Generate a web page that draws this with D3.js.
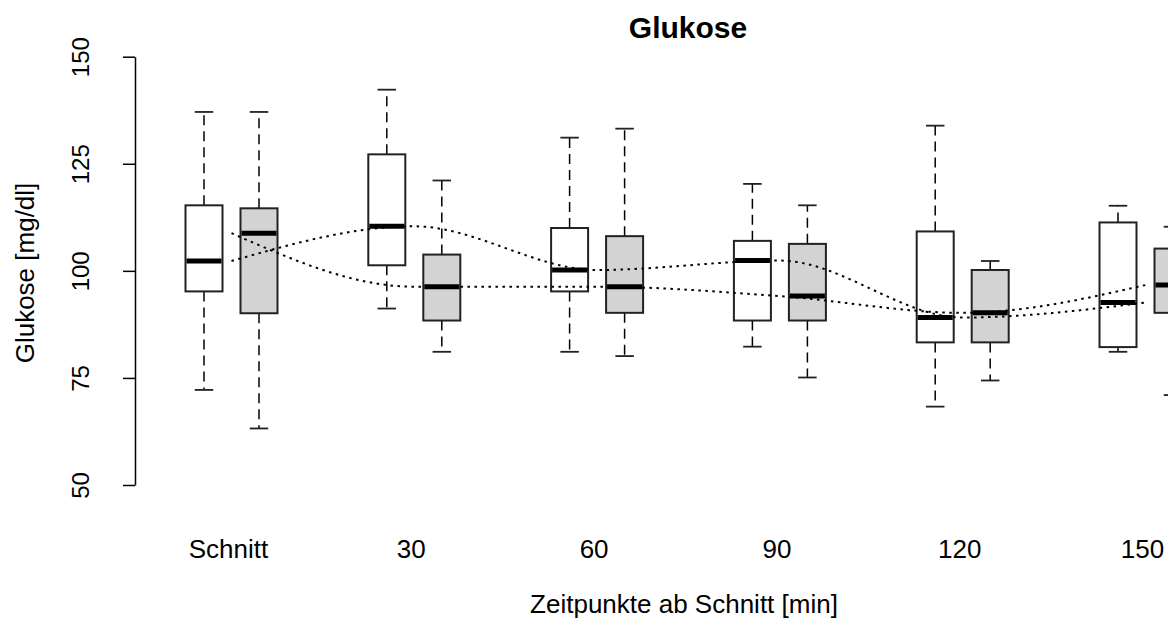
<!DOCTYPE html>
<html>
<head>
<meta charset="utf-8">
<script src="https://cdn.jsdelivr.net/npm/d3@7"></script>
<style>
  body { margin: 0; background: #fff; }
  svg { display: block; font-family: "Liberation Sans", Arial, sans-serif; }
</style>
</head>
<body>
<svg id="chart"></svg>
<script>
// Zeitpunkte
const categories = ['Schnitt', '30', '60', '90', '120', '150'];

// Gruppe 1 (weiß): untere Whisker, Q1, Median, Q3, obere Whisker
const whiteLow    = [72.2, 91.2, 81.1, 82.3, 68.3, 81.1];
const whiteQ1     = [95.2, 101.3, 95.2, 88.4, 83.3, 82.2];
const whiteMedian = [102.3, 110.4, 100.2, 102.4, 89.1, 92.6];
const whiteQ3     = [115.3, 127.2, 110.0, 107.0, 109.2, 111.3];
const whiteHigh   = [137.1, 142.3, 131.1, 120.3, 133.9, 115.2];

// Gruppe 2 (grau)
const grayLow    = [63.2, 81.1, 80.1, 75.1, 74.4, 71.0];
const grayQ1     = [90.1, 88.4, 90.2, 88.4, 83.3, 90.2];
const grayMedian = [108.8, 96.3, 96.3, 94.1, 90.2, 96.7];
const grayQ3     = [114.6, 103.8, 108.1, 106.3, 100.2, 105.2];
const grayHigh   = [137.1, 121.1, 133.2, 115.3, 102.3, 110.3];

const yTicks = [50, 75, 100, 125, 150];

const width = 1168, height = 621;

const svg = d3.select('#chart')
    .attr('width', width)
    .attr('height', height);

const xscale = d3.scalePoint()
    .domain(categories)
    .range([231.5, 1145.5]);

const sub = d3.scalePoint()
    .domain(['white', 'gray'])
    .range([-27.5, 27.5]);

const yscale = d3.scaleLinear()
    .domain([50, 150])
    .range([485, 56.7]);

const boxWidth = 37;

// tabelle für die boxen
const boxes = [];
categories.forEach((c, i) => {
    boxes.push({ cat: c, grp: 'white', fill: '#ffffff', low: whiteLow[i], q1: whiteQ1[i], med: whiteMedian[i], q3: whiteQ3[i], high: whiteHigh[i] });
    boxes.push({ cat: c, grp: 'gray', fill: '#d3d3d3', low: grayLow[i], q1: grayQ1[i], med: grayMedian[i], q3: grayQ3[i], high: grayHigh[i] });
});

const g = svg.append('g');

const box = g.selectAll('.box')
    .data(boxes)
    .join('g')
    .attr('class', 'box')
    .attr('transform', d => `translate(${xscale(d.cat) + sub(d.grp)},0)`);

// whiskers (gestrichelt)
box.append('line')
    .attr('x1', 0).attr('x2', 0)
    .attr('y1', d => yscale(d.q3)).attr('y2', d => yscale(d.high))
    .attr('stroke', '#000').attr('stroke-width', 1.5)
    .attr('stroke-dasharray', '10,6');
box.append('line')
    .attr('x1', 0).attr('x2', 0)
    .attr('y1', d => yscale(d.q1)).attr('y2', d => yscale(d.low))
    .attr('stroke', '#000').attr('stroke-width', 1.5)
    .attr('stroke-dasharray', '10,6');

// caps
box.selectAll('.cap')
    .data(d => [d.low, d.high])
    .join('line')
    .attr('class', 'cap')
    .attr('x1', -boxWidth / 4).attr('x2', boxWidth / 4)
    .attr('y1', v => yscale(v)).attr('y2', v => yscale(v))
    .attr('stroke', '#222').attr('stroke-width', 1.8);

box.append('rect')
    .attr('x', -boxWidth / 2)
    .attr('width', boxWidth)
    .attr('y', d => yscale(d.q3))
    .attr('height', d => yscale(d.q1) - yscale(d.q3))
    .attr('fill', d => d.fill)
    .attr('stroke', '#222')
    .attr('stroke-width', 2);

box.append('line')
    .attr('x1', -boxWidth / 2 + 1).attr('x2', boxWidth / 2 - 1)
    .attr('y1', d => yscale(d.med)).attr('y2', d => yscale(d.med))
    .attr('stroke', '#000').attr('stroke-width', 5);

// verbindungslinien der mediane
const line = d3.line()
    .x((v, i) => xscale(categories[i]))
    .y(v => yscale(v))
    .curve(d3.curveMonotoneX);

[whiteMedian, grayMedian].forEach(arr => {
    g.append('path')
        .attr('d', line(arr))
        .attr('fill', 'none')
        .attr('stroke', '#000')
        .attr('stroke-width', 2)
        .attr('stroke-dasharray', '2.5,4.5');
});

// y-achse
const yaxis = d3.axisLeft(yscale)
    .tickValues(yTicks)
    .tickSize(12)
    .tickSizeOuter(0)
    .tickFormat(d3.format('d'));

const yaxis_group = svg.append('g')
    .attr('transform', 'translate(135,0)')
    .call(yaxis);
yaxis_group.select('.domain').attr('stroke', '#000').attr('stroke-width', 1.5);
yaxis_group.selectAll('.tick line').attr('stroke', '#000').attr('stroke-width', 1.5);
yaxis_group.selectAll('.tick text')
    .attr('x', null).attr('dy', null)
    .attr('transform', 'translate(-46,0) rotate(-90)')
    .attr('text-anchor', 'middle')
    .style('font-size', '24px')
    .attr('fill', '#000');

// x-beschriftung ohne achsenlinie
svg.append('g')
    .selectAll('text')
    .data(categories)
    .join('text')
    .attr('x', d => xscale(d) - 3)
    .attr('y', 558)
    .attr('text-anchor', 'middle')
    .style('font-size', '26px')
    .text(d => d);

svg.append('text')
    .attr('x', 688)
    .attr('y', 38)
    .attr('text-anchor', 'middle')
    .style('font-size', '30px')
    .style('font-weight', 'bold')
    .text('Glukose');

svg.append('text')
    .attr('x', 684)
    .attr('y', 613)
    .attr('text-anchor', 'middle')
    .style('font-size', '26px')
    .text('Zeitpunkte ab Schnitt [min]');

svg.append('text')
    .attr('transform', 'translate(34,273) rotate(-90)')
    .attr('text-anchor', 'middle')
    .style('font-size', '26px')
    .text('Glukose [mg/dl]');
</script>
</body>
</html>
